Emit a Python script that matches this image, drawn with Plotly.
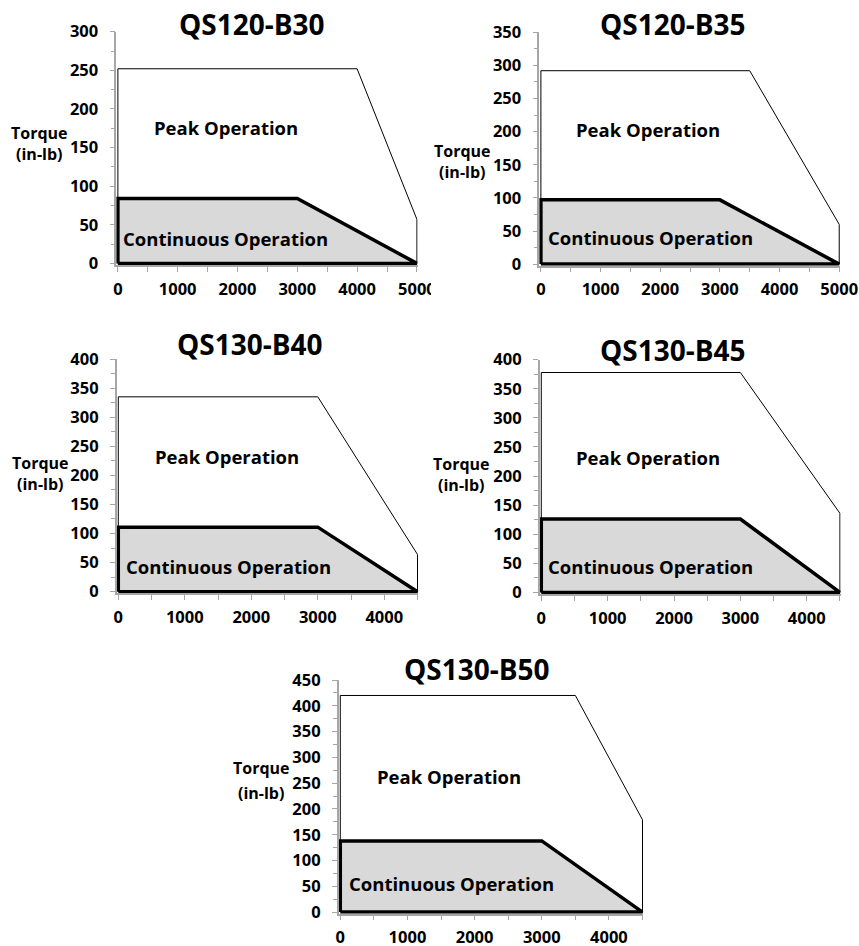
import plotly.graph_objects as go

# ---------------- data ----------------
models = ["QS120-B30", "QS120-B35", "QS130-B40", "QS130-B45", "QS130-B50"]
peak_torque = [252, 292, 335, 378, 420]          # in-lb, flat peak region
peak_corner_rpm = [4000, 3500, 3000, 3000, 3500]  # end of flat peak region
peak_end_torque = [57, 60, 64, 136, 179]          # peak torque at max speed
max_rpm = [5000, 5000, 4500, 4500, 4500]
cont_torque = [84, 97, 111, 126, 138]             # continuous torque
cont_corner_rpm = [3000, 3000, 3000, 3000, 3000]
y_max = [300, 350, 400, 400, 450]
x_tick_step = 1000
x_minor_step = 500
y_tick_step = 50
y_minor_step = 25
peak_label = "Peak Operation"
cont_label = "Continuous Operation"
y_title_lines = ["Torque", "(in-lb)"]

# ---------------- layout (pixels) ----------------
W, H = 859, 946
boxes = [(116.3, 417.7, 31.7, 265.0), (539.3, 840.0, 32.3, 265.7),
         (116.7, 418.3, 359.0, 593.3), (539.7, 840.7, 359.7, 594.0),
         (338.7, 643.3, 680.0, 913.7)]
title_pos = [(252.5, 24), (672.5, 24), (250, 344), (673, 350), (477.5, 669)]
peak_pos = [(226, 128), (648, 129), (227, 456), (648, 457), (449, 776)]
cont_pos = [(225, 239), (650, 237), (228, 566), (650, 566), (451, 883)]
ytitle_pos = [((40, 134), (39, 153)), ((463, 151), (462, 172)),
              ((40, 464), (40, 482)), ((462, 463), (460, 485)),
              ((261, 768), (261, 793))]

FONT = "Open Sans"
AXC = "#a6a6a6"

def px(x):
    return x / W

def py(y):
    return 1 - y / H

fig = go.Figure()
layout = dict(
    width=W, height=H, autosize=False,
    margin=dict(l=0, r=0, t=0, b=0, pad=0, autoexpand=False),
    paper_bgcolor="white", plot_bgcolor="white",
    showlegend=False,
    font=dict(family=FONT, color="black"),
)
annotations = []

for i in range(len(models)):
    n = i + 1
    xs = "x" if n == 1 else f"x{n}"
    ys = "y" if n == 1 else f"y{n}"
    x0, x1, yt, yb = boxes[i]
    xlen = x1 - x0
    ylen = yb - yt
    padx = max_rpm[i] / xlen * 1.6
    padxr = max_rpm[i] / xlen * 0.8
    pady = y_max[i] / ylen * 1.6

    # peak operation outline
    fig.add_trace(go.Scatter(
        x=[0, 0, peak_corner_rpm[i], max_rpm[i], max_rpm[i]],
        y=[0, peak_torque[i], peak_torque[i], peak_end_torque[i], 0],
        mode="lines", line=dict(color="black", width=1),
        xaxis=xs, yaxis=ys, hoverinfo="skip"))
    # continuous operation area
    fig.add_trace(go.Scatter(
        x=[0, 0, cont_corner_rpm[i], max_rpm[i], 0],
        y=[0, cont_torque[i], cont_torque[i], 0, 0],
        mode="lines", fill="toself", fillcolor="#d9d9d9",
        line=dict(color="black", width=3.5),
        xaxis=xs, yaxis=ys, hoverinfo="skip"))

    xkey = "xaxis" if n == 1 else f"xaxis{n}"
    ykey = "yaxis" if n == 1 else f"yaxis{n}"
    layout[xkey] = dict(
        domain=[px(x0), px(x1)], anchor=ys, automargin=False,
        range=[-padx, max_rpm[i] + padxr],
        tickmode="linear", tick0=0, dtick=x_tick_step,
        ticks="outside", ticklen=5, tickwidth=1.2, tickcolor=AXC,
        minor=dict(tickmode="linear", tick0=0, dtick=x_minor_step,
                   ticks="outside", ticklen=5, tickwidth=1.2, tickcolor=AXC),
        showline=True, linecolor=AXC, linewidth=1.5,
        showgrid=False, zeroline=False,
        tickfont=dict(family=FONT, size=16.5, weight="bold", color="black"),
        ticklabelstandoff=3, fixedrange=True)
    layout[ykey] = dict(
        domain=[py(yb), py(yt)], anchor=xs, automargin=False,
        range=[-pady, y_max[i]],
        tickmode="linear", tick0=0, dtick=y_tick_step,
        ticks="outside", ticklen=5, tickwidth=1.2, tickcolor=AXC,
        minor=dict(tickmode="linear", tick0=0, dtick=y_minor_step,
                   ticks="outside", ticklen=4, tickwidth=1.2, tickcolor=AXC),
        showline=True, linecolor=AXC, linewidth=1.5,
        showgrid=False, zeroline=False,
        tickfont=dict(family=FONT, size=16.5, weight="bold", color="black"),
        ticklabelstandoff=8, fixedrange=True)

    tx, ty = title_pos[i]
    annotations.append(dict(text=models[i], x=px(tx), y=py(ty), xref="paper", yref="paper",
                            showarrow=False, xanchor="center", yanchor="middle",
                            font=dict(family=FONT, size=28, weight="bold", color="black")))
    ax_, ay_ = peak_pos[i]
    annotations.append(dict(text=peak_label, x=px(ax_), y=py(ay_), xref="paper", yref="paper",
                            showarrow=False, xanchor="center", yanchor="middle",
                            font=dict(family=FONT, size=18.5, weight="bold", color="black")))
    cx, cy = cont_pos[i]
    annotations.append(dict(text=cont_label, x=px(cx), y=py(cy), xref="paper", yref="paper",
                            showarrow=False, xanchor="center", yanchor="middle",
                            font=dict(family=FONT, size=18.5, weight="bold", color="black")))
    (l1x, l1y), (l2x, l2y) = ytitle_pos[i]
    tfont = dict(family=FONT, size=16, weight="bold", color="black")
    if l2y - l1y < 23:
        annotations.append(dict(text="<br>".join(y_title_lines),
                                x=px((l1x + l2x) / 2), y=py((l1y + l2y) / 2),
                                xref="paper", yref="paper", showarrow=False,
                                xanchor="center", yanchor="middle", align="center",
                                font=tfont))
    else:
        for line_text, (lx, ly) in zip(y_title_lines, ytitle_pos[i]):
            annotations.append(dict(text=line_text, x=px(lx), y=py(ly), xref="paper", yref="paper",
                                    showarrow=False, xanchor="center", yanchor="middle",
                                    font=tfont))

layout["annotations"] = annotations
# the first chart's last x label is cut off at its image edge
layout["shapes"] = [dict(type="rect", xref="paper", yref="paper",
                         x0=px(431), x1=px(470), y0=py(305), y1=py(272),
                         fillcolor="white", line=dict(width=0), layer="above")]
fig.update_layout(**layout)
fig.write_html("out.html", config={"displayModeBar": False},
               post_script="document.body.style.margin='0';")
